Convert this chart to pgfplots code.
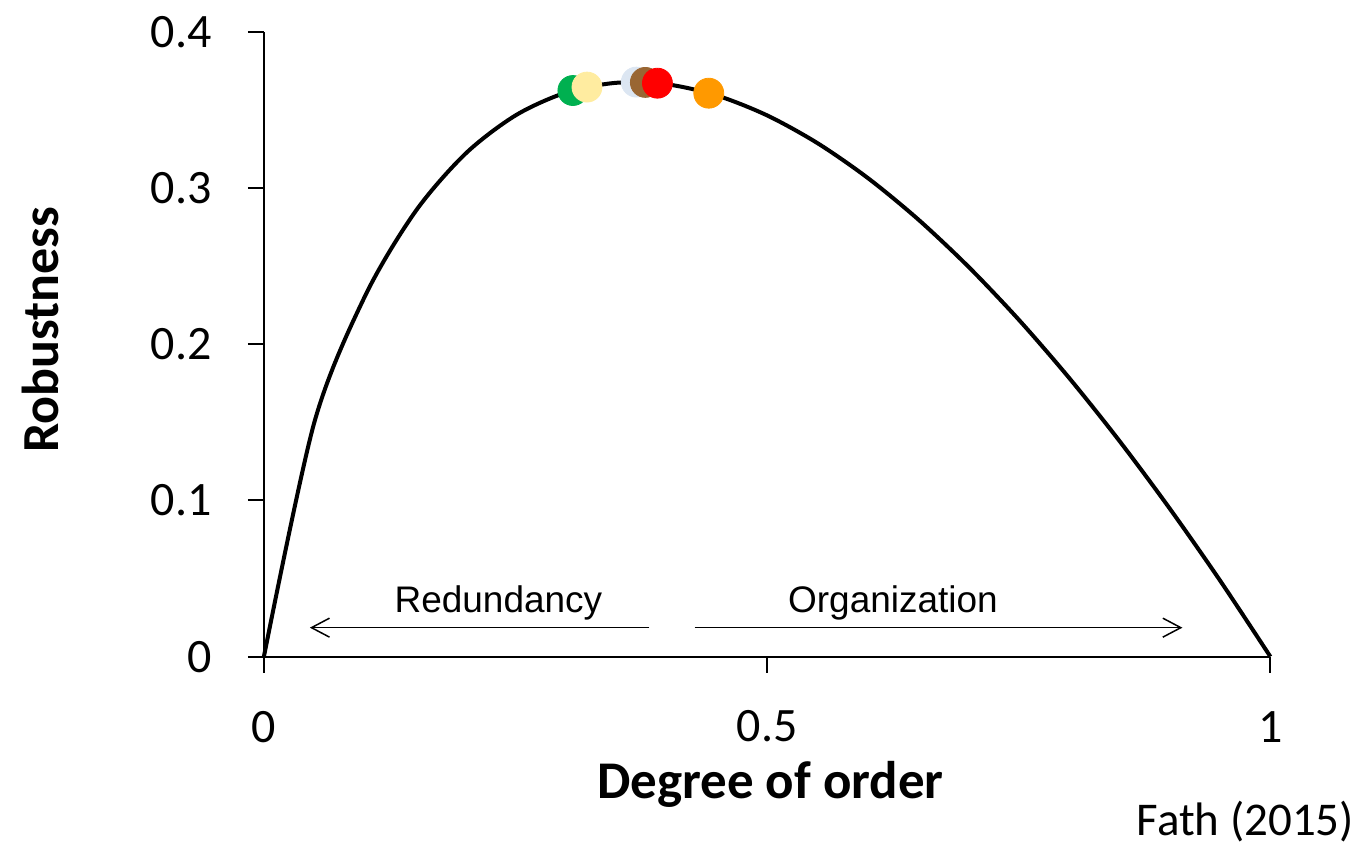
\documentclass[border=0pt]{standalone}
\usepackage{fontspec}
\setmainfont{Carlito}
\newfontfamily\arialfont{Liberation Sans}
\usepackage{pgfplots}
\pgfplotsset{compat=1.18}
\usetikzlibrary{arrows.meta}
\definecolor{cgreen}{RGB}{0,176,80}
\definecolor{cyellow}{RGB}{255,236,160}
\definecolor{cblue}{RGB}{220,230,242}
\definecolor{cbrown}{RGB}{153,102,51}
\definecolor{cred}{RGB}{255,0,0}
\definecolor{corange}{RGB}{255,153,0}
\begin{document}
\begin{tikzpicture}
\begin{axis}[
  scale only axis, width=503.5pt, height=312.5pt,
  xmin=0, xmax=1, ymin=0, ymax=0.4,
  axis lines=left, axis line style={-, line width=1pt},
  xtick={0,0.5,1}, xticklabels={0,0.5,1},
  ytick={0,0.1,0.2,0.3,0.4}, yticklabels={0,0.1,0.2,0.3,0.4},
  tick align=outside, major tick length=8pt,
  tick style={line width=1pt, black},
  ticklabel style={font=\fontsize{24}{28}\selectfont},
  yticklabel style={anchor=east, inner sep=0pt, xshift=-18pt},
  xticklabel style={anchor=center, inner sep=0pt, yshift=-27pt},
  /pgf/number format/assume math mode=true,
  clip=false,
  xlabel={Degree of order},
  ylabel={Robustness},
  xlabel style={font=\fontsize{26.5}{30}\selectfont\bfseries, inner sep=0pt, at={(rel axis cs:0.5035,-0.2048)}, anchor=center},
  ylabel style={font=\fontsize{26}{30}\selectfont\bfseries, inner sep=0pt, at={(rel axis cs:-0.2224,0.523)}, anchor=center},
]
\path (rel axis cs:-0.2622,-0.3056) rectangle (rel axis cs:1.0824,1.0512);
\addplot[black, line width=2pt, smooth, tension=0.5] coordinates {
(0,0) (0.05,0.14979) (0.10,0.23026) (0.15,0.28457) (0.20,0.32189)
(0.25,0.34657) (0.30,0.36119) (0.35,0.36744) (0.40,0.36652) (0.45,0.35933)
(0.50,0.34657) (0.55,0.32881) (0.60,0.30650) (0.65,0.28001) (0.70,0.24967)
(0.75,0.21576) (0.80,0.17851) (0.85,0.13814) (0.90,0.09482) (0.95,0.04873)
(1.00,0)
};
\addplot[only marks, mark=*, mark size=7.5pt, color=cgreen] coordinates {(0.307,0.3625)};
\addplot[only marks, mark=*, mark size=7.5pt, color=cyellow] coordinates {(0.321,0.3647)};
\addplot[only marks, mark=*, mark size=7.5pt, color=cblue] coordinates {(0.370,0.3679)};
\addplot[only marks, mark=*, mark size=7.5pt, color=cbrown] coordinates {(0.379,0.3677)};
\addplot[only marks, mark=*, mark size=7.5pt, color=cred] coordinates {(0.391,0.3672)};
\addplot[only marks, mark=*, mark size=7.5pt, color=corange] coordinates {(0.442,0.3608)};
\draw[line width=0.75pt, -{Straight Barb[length=9pt,width=9.5pt,line width=0.75pt]}] (axis cs:0.383,0.01856) -- (axis cs:0.0457,0.01856);
\draw[line width=0.75pt, -{Straight Barb[length=9pt,width=9.5pt,line width=0.75pt]}] (axis cs:0.428,0.01856) -- (axis cs:0.9126,0.01856);
\node[font=\arialfont\fontsize{18.5}{22}\selectfont, inner sep=0pt, anchor=center] at (axis cs:0.233,0.0346) {Redundancy};
\node[font=\arialfont\fontsize{18.5}{22}\selectfont, inner sep=0pt, anchor=center] at (axis cs:0.625,0.0346) {Organization};
\node[font=\fontsize{23.5}{27}\selectfont, inner sep=0pt, anchor=base] at (rel axis cs:0.9752,-0.2864) {Fath (2015)};
\end{axis}
\end{tikzpicture}
\end{document}
